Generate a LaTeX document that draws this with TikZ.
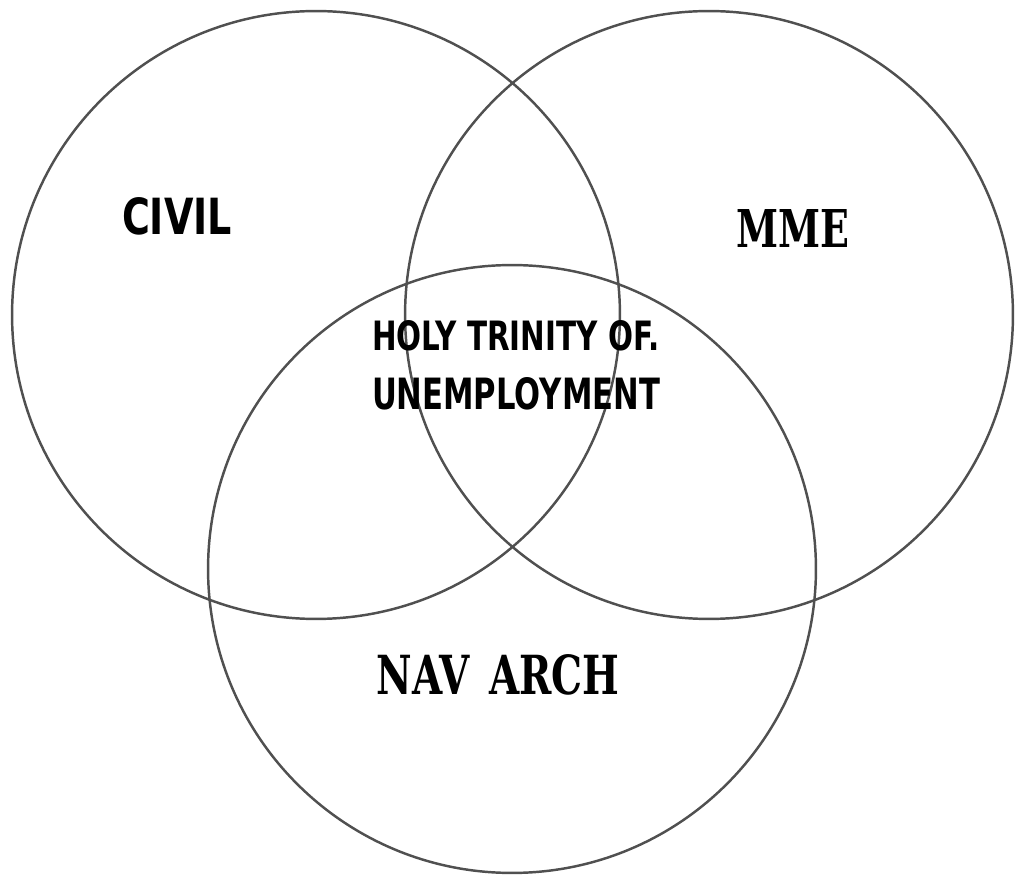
\documentclass[tikz,border=0pt]{standalone}
\usepackage{fontspec}
\usepackage{graphicx}
\setmainfont{DejaVu Sans}
\newfontfamily\slabfont{DejaVu Serif}
\usepackage{tikz}
\definecolor{rim}{RGB}{80, 80, 80}
\tikzset{
    venn/.style={circle, draw=rim, line width=1.4pt, minimum size=12.16cm, inner sep=0pt},
    tag/.style={inner sep=0pt, font=\bfseries}
}

\begin{document}
\begin{tikzpicture}[x=0.02cm, y=-0.02cm]
    \useasboundingbox (0, 0) rectangle (1024, 884);

    % The three circles
    \node[venn] (civilset) at (316, 315) {};
    \node[venn] (mmeset) at (709, 315) {};
    \node[venn] (navset) at (512, 569) {};

    % Labels
    \node[tag] (civil) at (177, 216) {\resizebox{2.2cm}{0.74cm}{CIVIL}};
    \node[tag, font=\slabfont\bfseries] (mme) at (793, 229) {\resizebox{2.26cm}{0.76cm}{MME}};
    \node[tag, font=\slabfont\bfseries] (navarch) at (498, 675) {\resizebox{4.86cm}{0.8cm}{NAV\hspace{0.5em}ARCH}};

    % Middle of all three
    \node[tag] (holy) at (516, 336) {\resizebox{5.76cm}{0.6cm}{HOLY TRINITY OF.}};
    \node[tag] (unemp) at (516, 394) {\resizebox{5.76cm}{0.64cm}{UNEMPLOYMENT}};
\end{tikzpicture}
\end{document}
